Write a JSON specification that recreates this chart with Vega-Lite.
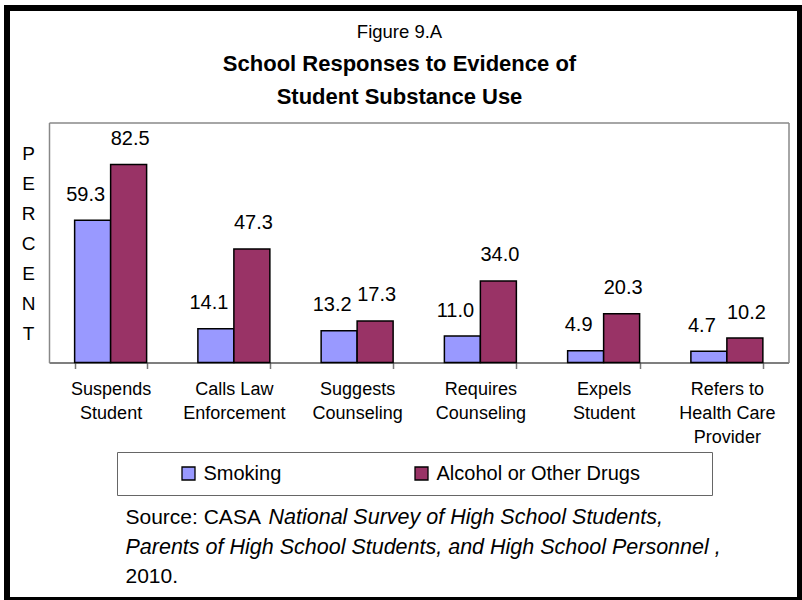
{
  "$schema": "https://vega.github.io/schema/vega-lite/v6.json",
  "width": 793,
  "height": 592,
  "autosize": {"type": "none"},
  "padding": {"left": 7, "top": 8, "right": 2, "bottom": 0},
  "background": "white",
  "config": {
    "font": "Liberation Sans",
    "view": {"stroke": "black", "strokeWidth": 6, "fill": "white"}
  },
  "title": {
    "text": "Figure 9.A",
    "subtitle": ["School Responses to Evidence of", "Student Substance Use"],
    "anchor": "middle",
    "frame": "group",
    "dx": -4,
    "offset": -100,
    "font": "Liberation Sans",
    "fontSize": 18.5,
    "fontWeight": "normal",
    "color": "black",
    "subtitleFont": "Liberation Sans",
    "subtitleFontSize": 22,
    "subtitleFontWeight": "bold",
    "subtitleColor": "black",
    "subtitleLineHeight": 33.3,
    "subtitlePadding": 12
  },
  "data": {
    "values": [
      {"response": "Suspends Student", "series": "Smoking", "percent": 59.3},
      {"response": "Suspends Student", "series": "Alcohol or Other Drugs", "percent": 82.5},
      {"response": "Calls Law Enforcement", "series": "Smoking", "percent": 14.1},
      {"response": "Calls Law Enforcement", "series": "Alcohol or Other Drugs", "percent": 47.3},
      {"response": "Suggests Counseling", "series": "Smoking", "percent": 13.2},
      {"response": "Suggests Counseling", "series": "Alcohol or Other Drugs", "percent": 17.3},
      {"response": "Requires Counseling", "series": "Smoking", "percent": 11.0},
      {"response": "Requires Counseling", "series": "Alcohol or Other Drugs", "percent": 34.0},
      {"response": "Expels Student", "series": "Smoking", "percent": 4.9},
      {"response": "Expels Student", "series": "Alcohol or Other Drugs", "percent": 20.3},
      {"response": "Refers to Health Care Provider", "series": "Smoking", "percent": 4.7},
      {"response": "Refers to Health Care Provider", "series": "Alcohol or Other Drugs", "percent": 10.2}
    ]
  },
  "layer": [
    {
      "mark": {"type": "bar", "stroke": "black", "strokeWidth": 1.5},
      "encoding": {
        "x": {
          "field": "response", "type": "nominal", "sort": null,
          "scale": {"range": [42, 781.5], "paddingInner": 0.416, "paddingOuter": 0.208},
          "axis": {
            "orient": "bottom", "offset": -237.5,
            "domainColor": "#555", "domainWidth": 1.5,
            "tickBand": "extent", "tickColor": "#777", "tickSize": 6, "tickWidth": 1.5,
            "labelAngle": 0, "labelFontSize": 18, "labelColor": "black", "labelPadding": 11.6,
            "labelLineHeight": 24, "labelOverlap": false, "labelBound": false, "labelLimit": 500,
            "labelExpr": "datum.label == 'Suspends Student' ? ['Suspends','Student'] : datum.label == 'Calls Law Enforcement' ? ['Calls Law','Enforcement'] : datum.label == 'Suggests Counseling' ? ['Suggests','Counseling'] : datum.label == 'Requires Counseling' ? ['Requires','Counseling'] : datum.label == 'Expels Student' ? ['Expels','Student'] : datum.label == 'Refers to Health Care Provider' ? ['Refers to','Health Care','Provider'] : datum.label",
            "grid": false,
            "title": ["Source: CASA", "2010."],
            "titleX": 118, "titleY": 160.5, "titleAlign": "left", "titleBaseline": "alphabetic",
            "titleFontSize": 21, "titleFontWeight": "normal", "titleColor": "black", "titleLineHeight": 59
          }
        },
        "xOffset": {"field": "series", "type": "nominal", "scale": {"domain": ["Smoking", "Alcohol or Other Drugs"], "paddingInner": 0, "paddingOuter": 0}},
        "y": {
          "field": "percent", "type": "quantitative",
          "scale": {"domain": [0, 100], "range": [354.5, 114.5], "nice": false},
          "axis": {
            "orient": "left", "offset": -42,
            "domainColor": "#888", "domainWidth": 1.5,
            "ticks": false, "labels": false, "grid": false,
            "title": ["P", "E", "R", "C", "E", "N", "T"],
            "titleAngle": 0, "titleX": -21, "titleY": 145, "titleAlign": "center", "titleBaseline": "middle",
            "titleLineHeight": 30, "titleFontSize": 19, "titleFontWeight": "normal", "titleColor": "black"
          }
        },
        "color": {
          "field": "series", "type": "nominal",
          "scale": {"domain": ["Smoking", "Alcohol or Other Drugs"], "range": ["#9999FF", "#993366"]},
          "legend": {
            "orient": "none", "legendX": 110, "legendY": 444, "direction": "horizontal",
            "title": "\u00a0", "titleOrient": "left", "titleFontSize": 1, "titlePadding": 50,
            "padding": 11.5, "strokeColor": "#666", "fillColor": "white",
            "symbolType": "square", "symbolSize": 169, "symbolStrokeColor": "black", "symbolStrokeWidth": 1.3,
            "labelFontSize": 20, "labelColor": "black", "labelOffset": 5, "labelLimit": 500,
            "columnPadding": 130,
            "labelExpr": "datum.label == 'Alcohol or Other Drugs' ? 'Alcohol or Other Drugs\u2800\u2800\u2800\u2800' : datum.label"
          }
        }
      }
    },
    {
      "transform": [{"filter": "datum.series == 'Smoking'"}],
      "mark": {"type": "text", "dx": -7, "dy": -19.5, "baseline": "alphabetic", "fontSize": 20, "color": "black"},
      "encoding": {
        "x": {
          "field": "response", "type": "nominal", "sort": null,
          "axis": {
            "orient": "top", "offset": -114.5,
            "domainColor": "#888", "domainWidth": 1.5,
            "ticks": false, "labels": false, "grid": false,
            "title": "National Survey of High School Students,",
            "titleX": 261, "titleY": 400.5, "titleAlign": "left", "titleBaseline": "alphabetic",
            "titleFontSize": 21.5, "titleFontStyle": "italic", "titleFontWeight": "normal", "titleColor": "black"
          }
        },
        "xOffset": {"field": "series", "type": "nominal"},
        "y": {
          "field": "percent", "type": "quantitative",
          "axis": {
            "orient": "right", "offset": -11.5,
            "domainColor": "#888", "domainWidth": 1.5,
            "ticks": false, "labels": false, "grid": false,
            "title": "Parents of High School Students, and High School Personnel ,",
            "titleAngle": 0, "titleX": -663.5, "titleY": 545, "titleAlign": "left", "titleBaseline": "alphabetic",
            "titleFontSize": 21.5, "titleFontStyle": "italic", "titleFontWeight": "normal", "titleColor": "black"
          }
        },
        "text": {"field": "percent", "type": "quantitative", "format": ".1f"}
      }
    },
    {
      "transform": [{"filter": "datum.series == 'Alcohol or Other Drugs'"}],
      "mark": {"type": "text", "dx": 1.5, "dy": -19.5, "baseline": "alphabetic", "fontSize": 20, "color": "black"},
      "encoding": {
        "x": {"field": "response", "type": "nominal", "sort": null, "axis": null},
        "xOffset": {"field": "series", "type": "nominal"},
        "y": {"field": "percent", "type": "quantitative", "axis": null},
        "text": {"field": "percent", "type": "quantitative", "format": ".1f"}
      }
    }
  ],
  "resolve": {"axis": {"x": "independent", "y": "independent"}}
}
